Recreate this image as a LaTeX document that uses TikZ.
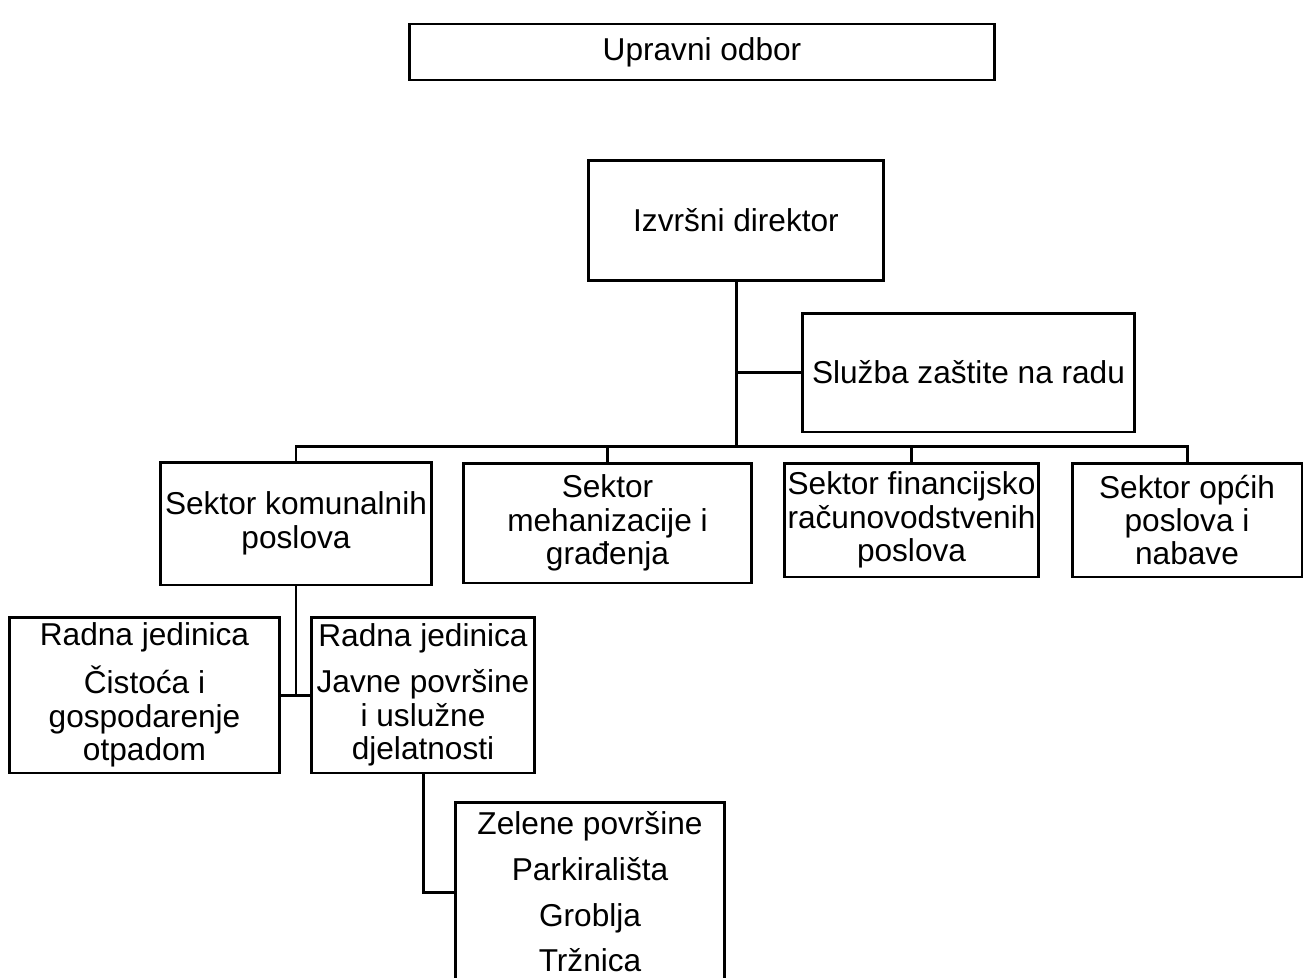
\documentclass[tikz,border=0pt]{standalone}
\usepackage{fontspec}
\setmainfont{Liberation Sans}
\usepackage{tikz}
\usetikzlibrary{calc,positioning}

\begin{document}
\begin{tikzpicture}[x=0.02cm,y=-0.02cm,line width=1.7pt,
	box/.style={draw,rectangle,align=center,inner sep=0pt,
		font=\fontsize{18}{19}\selectfont},
	link/.style={draw,line width=1.7pt}]
	\useasboundingbox (0,0) rectangle (1304,977);
	% top of the chart
	\node[box,minimum width=11.72cm,minimum height=1.12cm] (odbor) at (702,52) {Upravni odbor};
	\node[box,minimum width=5.92cm,minimum height=2.42cm] (direktor) at (736,220.5) {Izvršni direktor};
	\node[box,minimum width=6.66cm,minimum height=2.38cm] (zastita) at (968.5,372.5) {Služba zaštite na radu};
	% sectors
	\node[box,minimum width=5.44cm,minimum height=2.46cm] (komunalni) at (296,523.5) {Sektor komunalnih\\poslova};
	\node[box,minimum width=5.78cm,minimum height=2.40cm] (mehanizacija) at (607.5,523) {Sektor\\mehanizacije i\\građenja};
	\node[box,minimum width=5.10cm,minimum height=2.28cm] (financije) at (911.5,520) {Sektor financijsko\\računovodstvenih\\poslova};
	\node[box,minimum width=4.60cm,minimum height=2.28cm] (opci) at (1187,520) {Sektor općih\\poslova i\\nabave};
	% working units
	\node[box,minimum width=5.42cm,minimum height=3.12cm] (cistoca) at (144.5,695) {Radna jedinica\\[7pt]Čistoća i\\gospodarenje\\otpadom};
	\node[box,minimum width=4.48cm,minimum height=3.12cm] (javne) at (423,695) {Radna jedinica\\[7pt]Javne površine\\i uslužne\\djelatnosti};
	\node[box,minimum width=5.40cm,minimum height=3.60cm] (lista) at (590,892) {Zelene površine\\[7pt]Parkirališta\\[7pt]Groblja\\[7pt]Tržnica};
	% connectors
	\coordinate (bus) at (736,446);
	\draw[link] (direktor.south) -- (bus);
	\draw[link] (zastita.west) -- (zastita.west -| direktor.south);
	\draw[link] (komunalni.north) |- (opci.north |- bus) -- (opci.north);
	\draw[link] (mehanizacija.north) -- (mehanizacija.north |- bus);
	\draw[link] (financije.north) -- (financije.north |- bus);
	\draw[link] (komunalni.south) -- (komunalni.south |- cistoca.east);
	\draw[link] (cistoca.east) -- (javne.west);
	\draw[link] (javne.south) |- (lista.west);
\end{tikzpicture}
\end{document}
